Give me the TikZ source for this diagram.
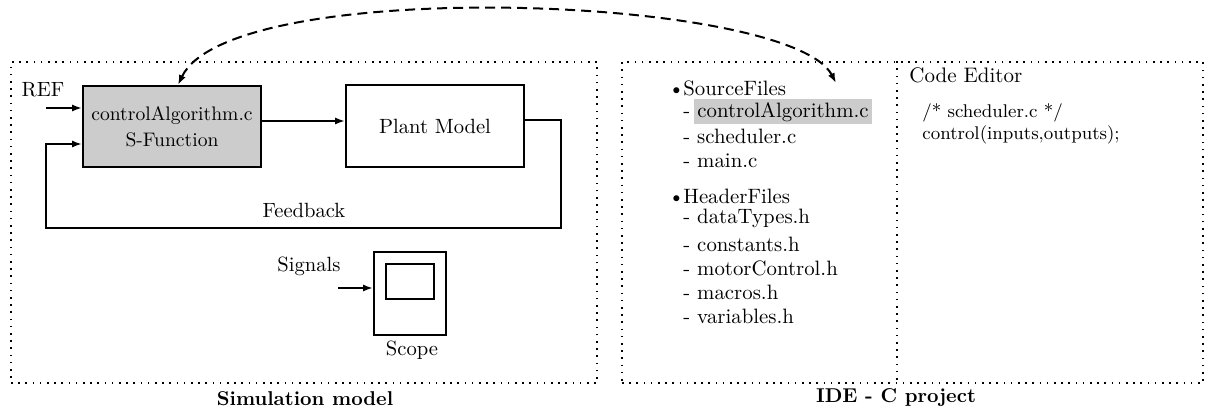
\documentclass[tikz,border=0pt]{standalone}
\usetikzlibrary{arrows.meta,calc}
\definecolor{blockgray}{gray}{0.8}
\begin{document}
\begin{tikzpicture}[x=0.5pt,y=-0.5pt,
  frame/.style={draw, line width=0.8pt, dash pattern=on 0.8pt off 2.8pt, inner sep=0pt},
  blk/.style={draw, line width=1pt, inner sep=0pt},
  wire/.style={line width=1pt},
  tip/.tip={Latex[length=5pt,width=3.6pt]},
  arr/.style={wire, -tip},
  lbl/.style={inner sep=0pt, font=\fontsize{10.3}{12}\selectfont},
  item/.style={lbl, anchor=base west, font=\fontsize{10.4}{12}\selectfont},
  code/.style={lbl, anchor=base west, font=\fontsize{9.2}{11}\selectfont},
  title/.style={inner sep=0pt, font=\fontsize{10}{12}\selectfont\bfseries},
]
\useasboundingbox (0,0) rectangle (1208,412);

% ---------- simulation model ----------
\node[frame, minimum width=293pt, minimum height=160.5pt] (sim) at (304,222.5) {};
\node[title] (simlbl) at (305,399) {Simulation model};

\node[blk, fill=blockgray, minimum width=89pt, minimum height=40.5pt, align=center,
      font=\fontsize{9.8}{13}\selectfont] (ctrl) at (172,126.5) {controlAlgorithm.c\\S-Function};
\node[blk, minimum width=89pt, minimum height=41pt, font=\fontsize{10.3}{12}\selectfont] (plant) at (435,126) {Plant Model};

\node[lbl] (ref) at (43,90) {REF};
\coordinate (refin) at (46,108);
\draw[arr] (refin) -- (refin -| ctrl.west);

\coordinate (fwd) at (300,121);
\draw[arr] (ctrl.east |- fwd) -- (plant.west |- fwd);

\coordinate (pout) at (524,120);
\coordinate (fbR) at (561,228);
\coordinate (fbL) at (46,144);
\draw[arr] (plant.east |- pout) -| (fbR) -| (fbL) -- (fbL -| ctrl.west);
\node[lbl] (fb) at (304,210) {Feedback};

\node[blk, minimum width=36pt, minimum height=41.5pt] (scope) at (410,293.5) {};
\node[blk, minimum width=24pt, minimum height=17.5pt] (screen) at (410,281.5) {};
\node[lbl] (scopelbl) at (412,350) {Scope};
\node[lbl] (sig) at (309,266) {Signals};
\coordinate (sigin) at (338,288);
\draw[arr] (sigin) -- (sigin -| scope.west);

% ---------- IDE ----------
\node[frame, minimum width=290.5pt, minimum height=160.5pt] (ide) at (912.5,222.5) {};
\coordinate (split) at (897,0);
\draw[frame] (split |- ide.north) -- (split |- ide.south);
\node[title] (idelbl) at (896,398) {IDE - C project};

\node[item] (srcs) at (668,95) {\textbullet\kern-0.6pt SourceFiles};
\node[item] (d1) at (683,117) {-};
\node[item, fill=blockgray, inner xsep=1.5pt, inner ysep=1.5pt] (s1) at (694,117) {controlAlgorithm.c};
\node[item] (s2) at (683,143) {- scheduler.c};
\node[item] (s3) at (683,167) {- main.c};
\node[item] (hdrs) at (668,203) {\textbullet\kern-0.6pt HeaderFiles};
\node[item] (h1) at (683,223) {- dataTypes.h};
\node[item] (h2) at (683,251) {- constants.h};
\node[item] (h3) at (683,275) {- motorControl.h};
\node[item] (h4) at (683,299) {- macros.h};
\node[item] (h5) at (683,323) {- variables.h};

\node[item, font=\fontsize{10.5}{12}\selectfont] (editor) at (909,82) {Code Editor};
\node[code] (c1) at (922,117) {/* scheduler.c */};
\node[code] (c2) at (922,139) {control(inputs,outputs);};

% ---------- link between the block and its source file ----------
\coordinate (hook) at (836,83);
\draw[wire, dash pattern=on 5pt off 3pt, tip-tip]
  ([xshift=3pt]ctrl.north) .. controls (230,-25) and (790,-5) .. (hook);
\end{tikzpicture}
\end{document}
